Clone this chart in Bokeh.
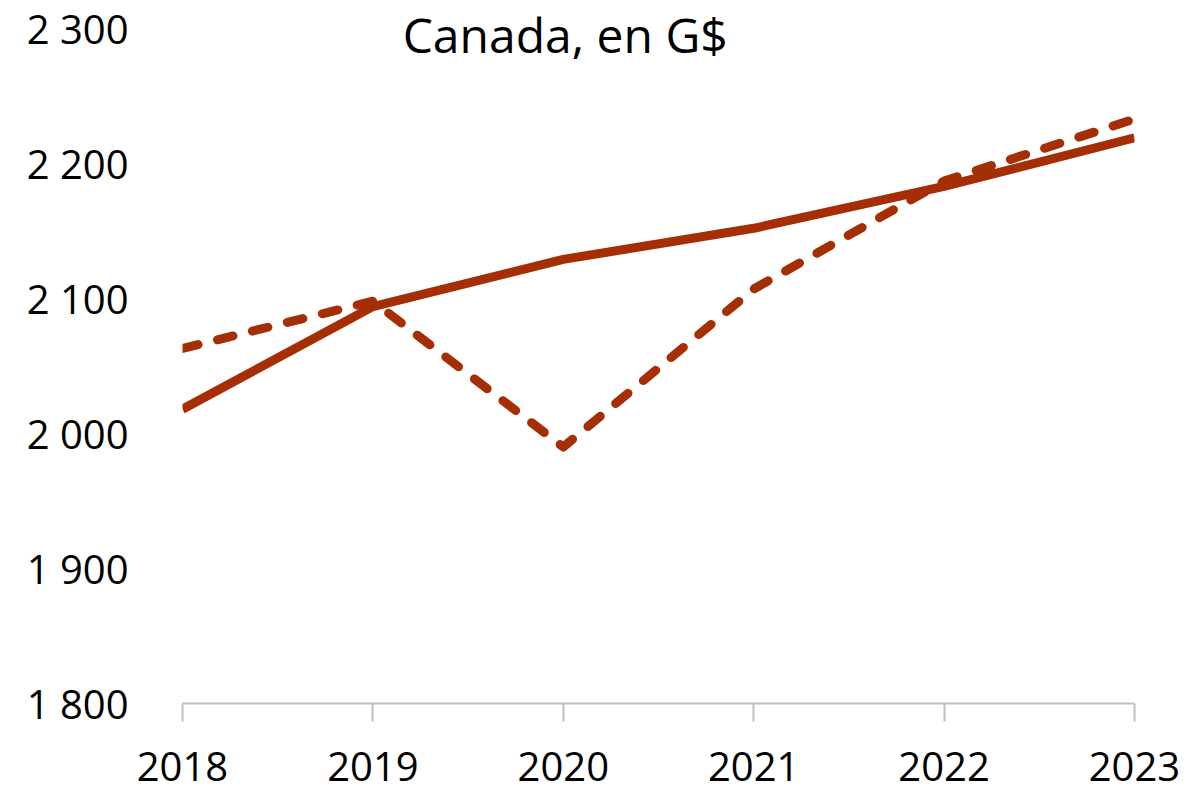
from bokeh.plotting import figure
from bokeh.models import FixedTicker, Label, Range1d
from bokeh.embed import file_html
from bokeh.resources import INLINE

# ---- data ----
years = [2018, 2019, 2020, 2021, 2022, 2023]
series_solid = [2018, 2094, 2129, 2152, 2183, 2219]
series_dashed = [2063, 2098, 1990, 2107, 2187, 2233]
y_ticks = [1800, 1900, 2000, 2100, 2200, 2300]
y_tick_labels = ["1 800", "1 900", "2 000", "2 100", "2 200", "2 300"]
x_tick_labels = ["2018", "2019", "2020", "2021", "2022", "2023"]
title_text = "Canada, en G$"

COLOR = "#A62E05"
FONT = "Open Sans"

W, H = 1191, 798
LEFT, RIGHT, BOTTOM = 182, W - 1134, H - 703
PX = 500 / (703 - 28)  # data units per pixel
# frame reaches the top of the canvas so the title (drawn inside) is not clipped
y_top = 2300 + 28 * PX

p = figure(width=W, height=H, output_backend="svg", toolbar_location=None,
           x_range=Range1d(2018, 2023), y_range=Range1d(1800, y_top),
           min_border_left=LEFT, min_border_right=RIGHT, min_border_top=0,
           min_border_bottom=BOTTOM)
p.outline_line_color = None
p.grid.grid_line_color = None
p.background_fill_color = "white"
p.border_fill_color = "white"

p.line(years, series_solid, line_color=COLOR, line_width=9, line_join="round")
p.line(years, series_dashed, line_color=COLOR, line_width=9, line_dash="16 20",
       line_cap="round", line_join="round")

# y axis
ya = p.yaxis[0]
ya.ticker = FixedTicker(ticks=y_ticks)
ya.major_label_overrides = {t: l for t, l in zip(y_ticks, y_tick_labels)}
ya.axis_line_color = None
ya.major_tick_line_color = None
ya.minor_tick_line_color = None
ya.major_tick_out = 0
ya.major_tick_in = 0
ya.major_label_standoff = 54
ya.major_label_text_font = FONT
ya.major_label_text_font_size = "40px"
ya.major_label_text_color = "#000000"

# x axis
xa = p.xaxis[0]
xa.ticker = FixedTicker(ticks=years)
xa.major_label_overrides = {t: l for t, l in zip(years, x_tick_labels)}
xa.axis_line_color = "#BFBFBF"
xa.axis_line_width = 2
xa.major_tick_line_color = "#BFBFBF"
xa.major_tick_line_width = 2
xa.major_tick_out = 18
xa.major_tick_in = 0
xa.minor_tick_line_color = None
xa.major_label_standoff = 30
xa.major_label_text_font = FONT
xa.major_label_text_font_size = "40px"
xa.major_label_text_color = "#000000"

title = Label(x=2020.01, y=2300 - 6 * PX, text=title_text,
              text_align="center", text_baseline="alphabetic", text_font=FONT,
              text_font_size="48px", text_color="#000000")
p.add_layout(title)

open("out.html", "w").write(file_html(p, INLINE))
